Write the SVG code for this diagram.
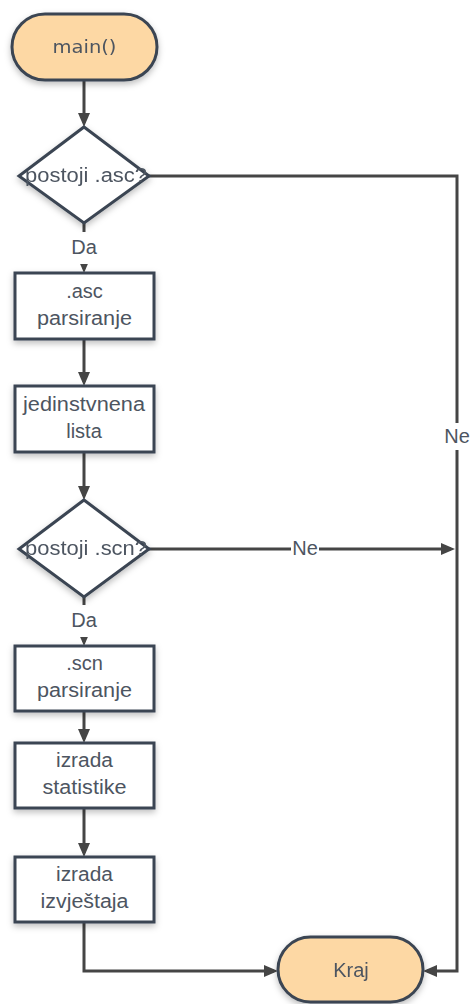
<svg xmlns="http://www.w3.org/2000/svg" width="472" height="1004" viewBox="0 0 472 1004">
<defs>
<style>
.term{fill:#fdd8a4;stroke:#3b4552;stroke-width:3;}
.box{fill:#ffffff;stroke:#3b4552;stroke-width:3;}
.t{font-family:"Liberation Sans",Arial,sans-serif;font-size:20px;fill:#4d5561;text-anchor:middle;}
.c{fill:none;stroke:#454545;stroke-width:3;}
.lbg{fill:#ffffff;}
</style>
<filter id="sh" x="-20%" y="-20%" width="140%" height="150%">
<feDropShadow dx="0" dy="3" stdDeviation="3" flood-color="#000" flood-opacity="0.25"/>
</filter>
<marker id="ah" viewBox="0 0 14 12" refX="10" refY="6" markerWidth="14" markerHeight="12" markerUnits="userSpaceOnUse" orient="auto">
<path d="M0,0 L14,6 L0,12 z" fill="#454545"/>
</marker>
</defs>
<rect width="472" height="1004" fill="#ffffff"/>

<g id="connectors">
<path class="c" d="M84,80 V123" marker-end="url(#ah)"/>
<path class="c" d="M84,223 V269" marker-end="url(#ah)"/>
<path class="c" d="M148,176 H457 V971 H427" marker-end="url(#ah)"/>
<path class="c" d="M84,339 V382" marker-end="url(#ah)"/>
<path class="c" d="M84,452 V496" marker-end="url(#ah)"/>
<path class="c" d="M148,549 H451" marker-end="url(#ah)"/>
<path class="c" d="M84,597 V642" marker-end="url(#ah)"/>
<path class="c" d="M84,711 V739" marker-end="url(#ah)"/>
<path class="c" d="M84,808 V853" marker-end="url(#ah)"/>
<path class="c" d="M84,922 V971 H274" marker-end="url(#ah)"/>
<rect class="lbg" x="68" y="232" width="32" height="32"/>
<text class="t" x="84" y="254">Da</text>
<rect class="lbg" x="68" y="605" width="32" height="32"/>
<text class="t" x="84" y="627">Da</text>
<rect class="lbg" x="443" y="423" width="28" height="27"/>
<text class="t" x="457" y="443">Ne</text>
<rect class="lbg" x="291" y="538" width="28" height="22"/>
<text class="t" x="305" y="555">Ne</text>
</g>

<g id="start" filter="url(#sh)">
<rect class="term" x="12" y="14" width="145" height="66" rx="33" ry="33"/>
<text class="t" x="84.5" y="53" style="font-family:'DejaVu Sans',sans-serif;font-size:18px" textLength="64" lengthAdjust="spacingAndGlyphs">main()</text>
</g>

<g id="dec1" filter="url(#sh)">
<polygon class="box" points="84,127 149,176 84,223 19,176"/>
<text class="t" x="86" y="182" textLength="122" lengthAdjust="spacingAndGlyphs">postoji .asc?</text>
</g>

<g id="asc">
<rect class="box" x="15" y="273" width="139" height="66" filter="url(#sh)"/>
<text class="t" x="84.5" y="298">.asc</text>
<text class="t" x="84.5" y="325" textLength="95" lengthAdjust="spacingAndGlyphs">parsiranje</text>
</g>

<g id="lista">
<rect class="box" x="15" y="386" width="139" height="66" filter="url(#sh)"/>
<text class="t" x="84" y="411" textLength="122" lengthAdjust="spacingAndGlyphs">jedinstvnena</text>
<text class="t" x="84" y="438">lista</text>
</g>

<g id="dec2" filter="url(#sh)">
<polygon class="box" points="84,500 149,549 84,597 19,549"/>
<text class="t" x="86" y="555" textLength="122" lengthAdjust="spacingAndGlyphs">postoji .scn?</text>
</g>

<g id="scn">
<rect class="box" x="15" y="646" width="139" height="65" filter="url(#sh)"/>
<text class="t" x="84.5" y="670">.scn</text>
<text class="t" x="84.5" y="697" textLength="95" lengthAdjust="spacingAndGlyphs">parsiranje</text>
</g>

<g id="stat">
<rect class="box" x="15" y="743" width="139" height="65" filter="url(#sh)"/>
<text class="t" x="84.5" y="767" textLength="57" lengthAdjust="spacingAndGlyphs">izrada</text>
<text class="t" x="84.5" y="794" textLength="84" lengthAdjust="spacingAndGlyphs">statistike</text>
</g>

<g id="izvj">
<rect class="box" x="15" y="857" width="139" height="65" filter="url(#sh)"/>
<text class="t" x="84.5" y="881" textLength="57" lengthAdjust="spacingAndGlyphs">izrada</text>
<text class="t" x="84.5" y="908" textLength="88" lengthAdjust="spacingAndGlyphs">izvještaja</text>
</g>

<g id="kraj" filter="url(#sh)">
<rect class="term" x="278" y="937" width="145" height="65" rx="32.5" ry="32.5"/>
<text class="t" x="351" y="977">Kraj</text>
</g>
</svg>
